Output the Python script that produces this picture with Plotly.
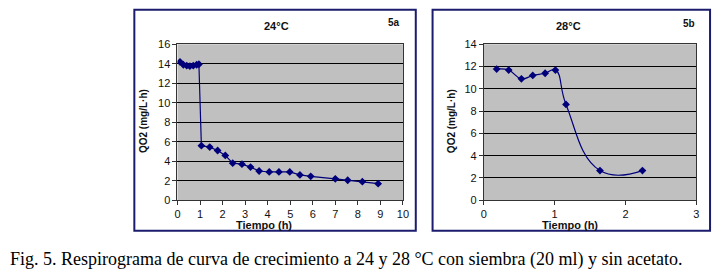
import plotly.graph_objects as go

# Panel 5a (24 °C)
t_24 = [0.11, 0.26, 0.41, 0.55, 0.70, 0.85, 0.95, 1.06, 1.43, 1.78, 2.12, 2.45, 2.86,
        3.24, 3.62, 4.07, 4.50, 4.98, 5.43, 5.91, 7.00, 7.55, 8.20, 8.90]
qo2_24 = [14.2, 13.9, 13.8, 13.75, 13.8, 13.9, 13.95, 5.6, 5.45, 5.1, 4.6, 3.8, 3.7,
          3.4, 3.0, 2.9, 2.9, 2.9, 2.6, 2.45, 2.2, 2.05, 1.9, 1.7]

# Panel 5b (28 °C)
t_28 = [0.18, 0.35, 0.53, 0.69, 0.865, 1.01, 1.16, 1.64, 2.24]
qo2_28 = [11.77, 11.68, 10.9, 11.2, 11.4, 11.68, 8.6, 2.66, 2.66]

titles = ["24°C", "28°C"]
panel_tags = ["5a", "5b"]
x_title = "Tiempo (h)"
y_title = "QO2 (mg/L·h)"
caption = "Fig. 5. Respirograma de curva de crecimiento a 24 y 28 °C con siembra (20 ml) y sin acetato."

W, H = 720, 278
NAVY = "#00007a"
def px(x): return x / W
def py(y): return (H - y) / H

fig = go.Figure()
fig.add_trace(go.Scatter(x=t_24, y=qo2_24, mode="lines+markers", xaxis="x", yaxis="y",
                         line=dict(color=NAVY, width=1.2),
                         marker=dict(symbol="diamond", size=6, color=NAVY),
                         showlegend=False))
fig.add_trace(go.Scatter(x=t_28, y=qo2_28, mode="lines+markers", xaxis="x2", yaxis="y2",
                         line=dict(color=NAVY, width=1.2, shape="spline", smoothing=1.3),
                         marker=dict(symbol="diamond", size=6, color=NAVY),
                         showlegend=False))

tickfont = dict(family="Liberation Sans, Arial", size=11, color="#111")
common_x = dict(showgrid=False, zeroline=False, showline=True, linecolor="#333", linewidth=1,
                mirror=True, ticks="outside", ticklen=4, tickcolor="#333", tickfont=tickfont)
common_y = dict(showgrid=True, gridcolor="#000", gridwidth=1, zeroline=False, showline=True,
                linecolor="#333", linewidth=1, mirror=True, ticks="outside", ticklen=4,
                tickcolor="#333", tickfont=tickfont)

ydom = [py(203), py(40)]
fig.update_layout(
    width=W, height=H, margin=dict(l=0, r=0, t=0, b=0),
    paper_bgcolor="white", plot_bgcolor="#c0c0c0",
    xaxis=dict(domain=[px(176.7), px(405)], range=[0, 10], dtick=1, anchor="y", **common_x),
    yaxis=dict(domain=ydom, range=[0, 16], dtick=2, anchor="x", **common_y),
    xaxis2=dict(domain=[px(487), px(702)], range=[0, 3], dtick=1, anchor="y2", **common_x),
    yaxis2=dict(domain=ydom, range=[0, 14], dtick=2, anchor="x2", **common_y),
)

# chart-area borders
for x0, x1 in [(133, 418), (435, 716)]:
    fig.add_shape(type="rect", xref="paper", yref="paper", x0=px(x0), x1=px(x1),
                  y0=py(235), y1=py(4), line=dict(color="#1c1c6e", width=2), layer="below")

anns = [
    (277, 21, titles[0], 11), (573, 21, titles[1], 11),
    (396, 17, panel_tags[0], 10), (695, 18, panel_tags[1], 10),
    (264, 229, x_title, 11), (574, 229, x_title, 11),
]
for x, y, txt, s in anns:
    fig.add_annotation(xref="paper", yref="paper", x=px(x), y=py(y), text="<b>%s</b>" % txt,
                       showarrow=False, xanchor="center", yanchor="middle",
                       font=dict(family="Liberation Sans, Arial", size=s, color="#111"))
for x in [143, 455]:
    fig.add_annotation(xref="paper", yref="paper", x=px(x), y=py(120), text="<b>%s</b>" % y_title,
                       showarrow=False, textangle=-90, xanchor="center", yanchor="middle",
                       font=dict(family="Liberation Sans, Arial", size=10, color="#111"))

fig.add_annotation(xref="paper", yref="paper", x=px(5), y=py(265), text=caption,
                   showarrow=False, xanchor="left", yanchor="middle",
                   font=dict(family="Liberation Serif, Times New Roman", size=18, color="#000"))

fig.write_html("out.html", config={"displayModeBar": False},
               post_script="document.body.style.margin='0px';")
